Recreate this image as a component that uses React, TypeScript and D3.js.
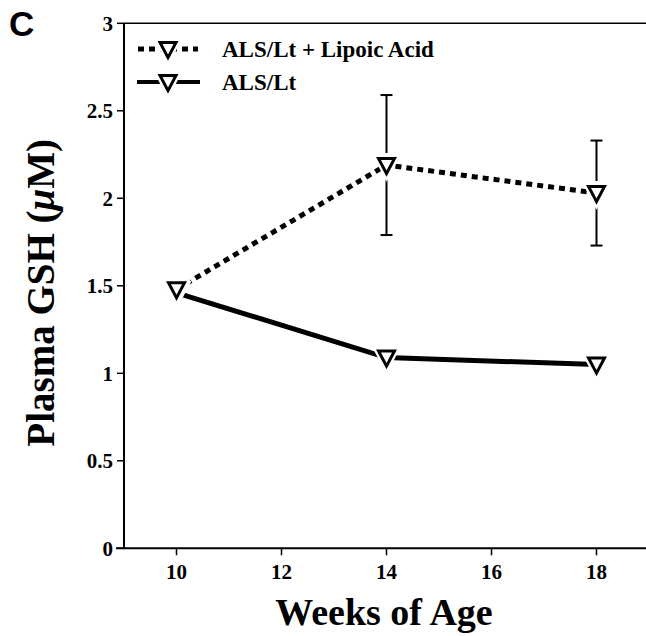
import React from "react";
import * as d3 from "d3";

const weeks = [10, 14, 18];
const lipoicMean = [1.48, 2.19, 2.03];
const lipoicErr = [0, 0.4, 0.3];
const alsMean = [1.46, 1.09, 1.05];
const yTicks = [0, 0.5, 1, 1.5, 2, 2.5, 3];
const xTicks = [10, 12, 14, 16, 18];
const seriesNames = ["ALS/Lt + Lipoic Acid", "ALS/Lt"];

const W = 646;
const H = 636;
const serif = "'Liberation Serif', 'Times New Roman', serif";

export default function App() {
  const x = d3.scaleLinear().domain([9, 19]).range([124, 649]);
  const y = d3.scaleLinear().domain([0, 3]).range([548.3, 23.3]);
  const line = d3
    .line<number>()
    .x((_, i) => x(weeks[i]))
    .y((d) => y(d));

  const tri = (cx: number, cy: number, s: number) => {
    const h = s * 0.95;
    return `M${cx - s / 2},${cy - h / 2 + 1}L${cx + s / 2},${cy - h / 2 + 1}L${cx},${cy + h / 2 + 1}Z`;
  };

  const marker = (cx: number, cy: number, key: string) => (
    <g key={key}>
      <path d={tri(cx, cy, 22)} fill="#fff" stroke="#fff" strokeWidth={5} />
      <path d={tri(cx, cy, 16)} fill="#fff" stroke="#000" strokeWidth={3} strokeLinejoin="miter" />
    </g>
  );

  return (
    <svg
      width={W}
      height={H}
      style={{ position: "absolute", left: 0, top: 0, background: "#fff" }}
    >
      <rect width={W} height={H} fill="#fff" />
      {/* panel letter */}
      <text x={9} y={36} fontFamily="'Liberation Sans', Arial, sans-serif" fontWeight="bold" fontSize={35}>
        C
      </text>
      {/* axes */}
      <line x1={x(9)} x2={W} y1={y(3)} y2={y(3)} stroke="#000" strokeWidth={1.5} />
      <line x1={x(9)} x2={x(9)} y1={y(3)} y2={y(0)} stroke="#000" strokeWidth={2} />
      <line x1={x(9) - 8} x2={W} y1={y(0)} y2={y(0)} stroke="#000" strokeWidth={2} />
      {yTicks.map((t) => (
        <g key={"y" + t}>
          <line x1={x(9) - 7} x2={x(9)} y1={y(t)} y2={y(t)} stroke="#000" strokeWidth={1.5} />
          <text
            x={x(9) - 11}
            y={y(t)}
            dy="0.35em"
            textAnchor="end"
            fontFamily={serif}
            fontWeight="bold"
            fontSize={21}
          >
            {String(t)}
          </text>
        </g>
      ))}
      {xTicks.map((t) => (
        <g key={"x" + t}>
          <line x1={x(t)} x2={x(t)} y1={y(0)} y2={y(0) + 7} stroke="#000" strokeWidth={1.5} />
          <text
            x={x(t)}
            y={y(0) + 31}
            textAnchor="middle"
            fontFamily={serif}
            fontWeight="bold"
            fontSize={21}
          >
            {String(t)}
          </text>
        </g>
      ))}
      {/* axis titles */}
      <text x={384} y={625} textAnchor="middle" fontFamily={serif} fontWeight="bold" fontSize={38}>
        Weeks of Age
      </text>
      <text
        transform={`translate(54,${y(1.46)}) rotate(-90)`}
        textAnchor="middle"
        fontFamily={serif}
        fontWeight="bold"
        fontSize={39}
      >
        Plasma GSH (<tspan fontStyle="italic">μ</tspan>M)
      </text>
      {/* lines */}
      <path d={line(alsMean) || ""} fill="none" stroke="#000" strokeWidth={5} />
      <path
        d={line(lipoicMean) || ""}
        fill="none"
        stroke="#000"
        strokeWidth={5}
        strokeDasharray="6,5"
      />
      {/* error bars */}
      {weeks.map((w, i) =>
        lipoicErr[i] > 0 ? (
          <g key={"e" + i}>
            <line
              x1={x(w)}
              x2={x(w)}
              y1={y(lipoicMean[i] + lipoicErr[i])}
              y2={y(lipoicMean[i] - lipoicErr[i])}
              stroke="#000"
              strokeWidth={2}
            />
            {[1, -1].map((s) => (
              <line
                key={s}
                x1={x(w) - 6}
                x2={x(w) + 6}
                y1={y(lipoicMean[i] + s * lipoicErr[i])}
                y2={y(lipoicMean[i] + s * lipoicErr[i])}
                stroke="#000"
                strokeWidth={2}
              />
            ))}
          </g>
        ) : null
      )}
      {/* markers */}
      {weeks.map((w, i) => marker(x(w), y(alsMean[i]), "a" + i))}
      {weeks.map((w, i) => marker(x(w), y(lipoicMean[i]), "l" + i))}
      {/* legend */}
      <line x1={138} x2={198} y1={49} y2={49} stroke="#000" strokeWidth={5} strokeDasharray="6,5" />
      {marker(168, 49, "lg1")}
      <text x={222} y={49} dy="0.35em" fontFamily={serif} fontWeight="bold" fontSize={23}>
        {seriesNames[0]}
      </text>
      <line x1={137} x2={200} y1={82} y2={82} stroke="#000" strokeWidth={4} />
      {marker(168, 82, "lg2")}
      <text x={222} y={82} dy="0.35em" fontFamily={serif} fontWeight="bold" fontSize={23}>
        {seriesNames[1]}
      </text>
    </svg>
  );
}
